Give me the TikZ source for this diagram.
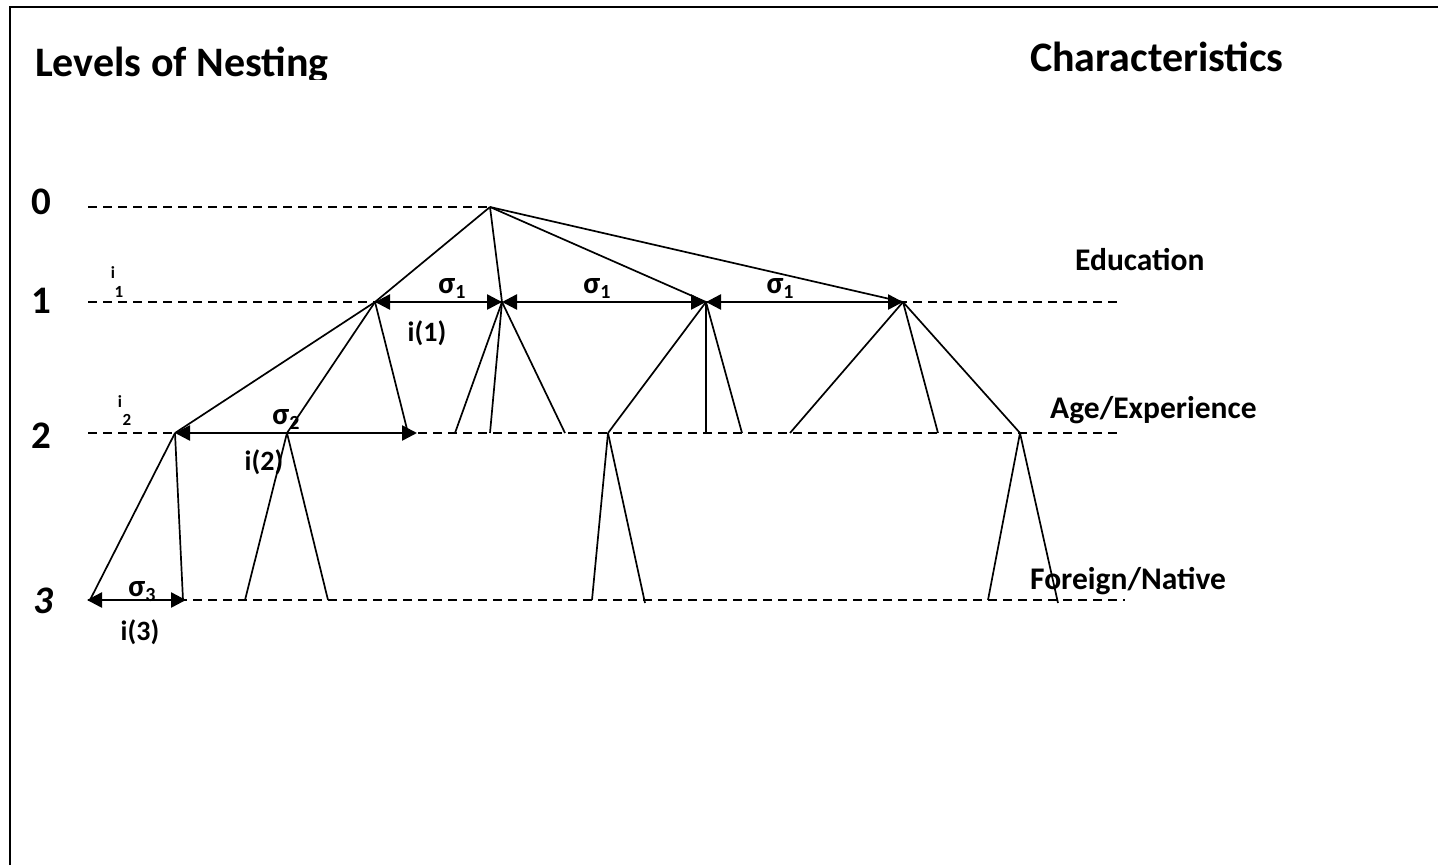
\documentclass[tikz,border=0pt]{standalone}
\usepackage{fontspec}
\setmainfont{Carlito}
\usetikzlibrary{arrows.meta}
\begin{document}
\begin{tikzpicture}[x=1pt,y=-1pt,
  edge/.style={line width=1.7pt},
  dashline/.style={line width=1.7pt, dash pattern=on 9pt off 6pt},
  span/.style={line width=2.5pt, {Triangle[length=15pt,width=15pt]}-{Triangle[length=15pt,width=15pt]}},
  title/.style={font=\fontsize{42}{42}\selectfont\bfseries, anchor=base west, inner sep=0pt},
  lab/.style={font=\fontsize{31.5}{31.5}\selectfont\bfseries, anchor=base west, inner sep=0pt},
  lvl/.style={font=\fontsize{39}{39}\selectfont\bfseries, inner sep=0pt},
  sig/.style={font=\fontsize{31}{31}\selectfont\bfseries, inner sep=0pt},
  tiny/.style={font=\fontsize{17}{17}\selectfont\bfseries, inner sep=0pt}
]
\useasboundingbox (0,0) rectangle (1438,865);
% frame
\coordinate (fb) at (10,865);
\coordinate (ftl) at (10,7);
\coordinate (fr) at (1438,7);
\draw[line width=2.5pt] (fb) -- (ftl) -- (fr);

% titles
\begin{scope}
\clip (0,0) rectangle (1438,79);
\node[title] (tl) at (35,76) {Levels of Nesting};
\node[title] (tr) at (1030,71) {Characteristics};
\end{scope}

% level labels
\node[lvl] (l0) at (41,202) {0};
\node[lvl] (l1) at (41,301) {1};
\node[lvl] (l2) at (41,436) {2};
\node[lvl,font=\fontsize{39}{39}\selectfont\bfseries\itshape] (l3) at (43,601) {3};
\node[tiny] (i1a) at (113,273) {i};
\node[tiny] (i1b) at (119,292) {1};
\node[tiny] (i2a) at (120,402) {i};
\node[tiny] (i2b) at (127,420) {2};

% characteristic labels
\node[lab] (ed) at (1075,270) {Education};
\node[lab] (ag) at (1050,418) {Age/Experience};
\node[lab] (fn) at (1030,589) {Foreign/Native};

% dashed level lines
\coordinate (d0s) at (88,207);
\coordinate (d1s) at (88,302); \coordinate (d1e) at (1120,302);
\coordinate (d2s) at (88,433); \coordinate (d2e) at (1120,433);
\coordinate (d3s) at (88,600); \coordinate (d3e) at (1125,600);

% tree points
\coordinate (R) at (490,207);
\coordinate (A) at (375,302);
\coordinate (B) at (502,302);
\coordinate (C) at (706,302);
\coordinate (D) at (903,302);
\coordinate (E) at (175,433);
\coordinate (F) at (287,433);
\coordinate (G) at (408,433);
\coordinate (S2) at (417,433);
\coordinate (B1) at (455,433);
\coordinate (B2) at (490,433);
\coordinate (B3) at (565,433);
\coordinate (H) at (608,433);
\coordinate (C2) at (706,433);
\coordinate (C3) at (742,433);
\coordinate (D1) at (790,433);
\coordinate (D2) at (938,433);
\coordinate (I) at (1020,433);
\coordinate (E1) at (90,600);
\coordinate (E1a) at (87,600);
\coordinate (E2) at (183,600);
\coordinate (E2a) at (186,600);
\coordinate (F1) at (245,600);
\coordinate (F2) at (328,600);
\coordinate (H1) at (592,600);
\coordinate (H2) at (645,603);
\coordinate (I1) at (988,600);
\coordinate (I2) at (1058,603);

\draw[dashline] (d0s) -- (R);
\draw[dashline] (d1s) -- (d1e);
\draw[dashline] (d2s) -- (d2e);
\draw[dashline] (d3s) -- (d3e);

% edges level 0 -> 1
\draw[edge] (R) -- (A);
\draw[edge] (R) -- (B);
\draw[edge] (R) -- (C);
\draw[edge] (R) -- (D);
% level 1 -> 2
\draw[edge] (A) -- (E);
\draw[edge] (A) -- (F);
\draw[edge] (A) -- (G);
\draw[edge] (B) -- (B1);
\draw[edge] (B) -- (B2);
\draw[edge] (B) -- (B3);
\draw[edge] (C) -- (H);
\draw[edge] (C) -- (C2);
\draw[edge] (C) -- (C3);
\draw[edge] (D) -- (D1);
\draw[edge] (D) -- (D2);
\draw[edge] (D) -- (I);
% level 2 -> 3
\draw[edge] (E) -- (E1);
\draw[edge] (E) -- (E2);
\draw[edge] (F) -- (F1);
\draw[edge] (F) -- (F2);
\draw[edge] (H) -- (H1);
\draw[edge] (H) -- (H2);
\draw[edge] (I) -- (I1);
\draw[edge] (I) -- (I2);

% spacing arrows
\draw[span] (A) -- (B);
\draw[span] (B) -- (C);
\draw[span] (C) -- (D);
\draw[span] (E) -- (S2);
\draw[span] (E1a) -- (E2a);

% sigma labels
\node[sig] (s1a) at (452,288) {σ\lower5pt\hbox{\fontsize{20}{20}\selectfont 1}};
\node[sig] (s1b) at (597,288) {σ\lower5pt\hbox{\fontsize{20}{20}\selectfont 1}};
\node[sig] (s1c) at (780,288) {σ\lower5pt\hbox{\fontsize{20}{20}\selectfont 1}};
\node[sig] (s2) at (286,419) {σ\lower5pt\hbox{\fontsize{20}{20}\selectfont 2}};
\node[sig] (s3) at (142,592) {σ\lower5pt\hbox{\fontsize{20}{20}\selectfont 3}};
\node[sig,font=\fontsize{28}{28}\selectfont\bfseries] (ia) at (427,333) {i(1)};
\node[sig,font=\fontsize{28}{28}\selectfont\bfseries] (ib) at (264,462) {i(2)};
\node[sig,font=\fontsize{28}{28}\selectfont\bfseries] (ic) at (140,632) {i(3)};
\end{tikzpicture}
\end{document}
